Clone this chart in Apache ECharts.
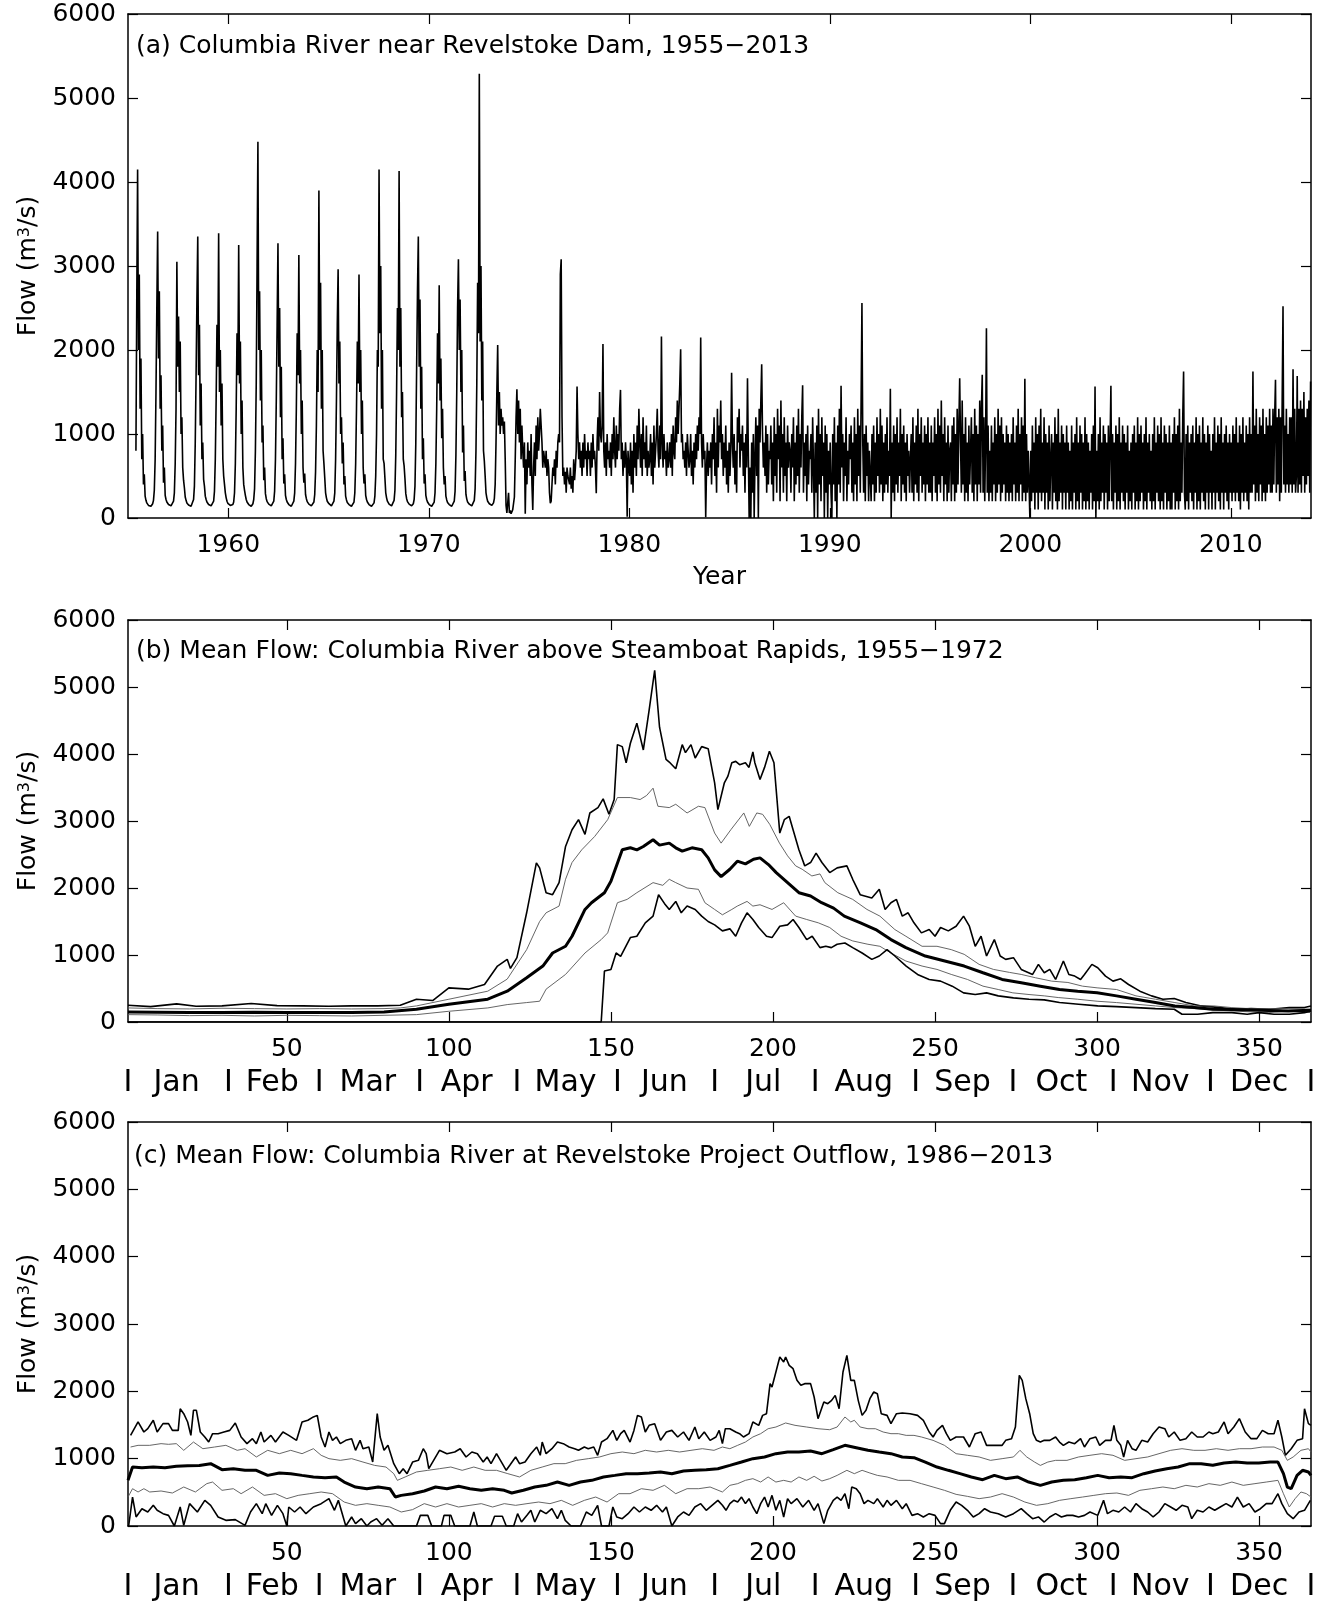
<!DOCTYPE html>
<html>
<head>
<meta charset="utf-8">
<script src="https://cdn.jsdelivr.net/npm/echarts@6/dist/echarts.min.js"></script>
<style>
  html, body { margin: 0; padding: 0; background: #fff; }
  #chart { width: 1320px; height: 1608px; }
</style>
</head>
<body>
<div id="chart"></div>
<script>
// ---------------- Panel (a): daily record, 24 readings per year ----------------
const firstNaturalYear = 1955;
// 1955-1973, half-month readings (m3/s); record starts late May 1955
const naturalFlow = [
  null,null,null,null,null,null, null,null,null,800,2600,4150, 2000,2900,1300,1900,700,1000, 400,520,260,210,180,160, // 1955
  150,145,140,140,150,170, 210,330,700,1500,2500,3410, 1900,2700,1300,1700,800,1100, 420,600,270,220,190,170, // 1956
  160,150,145,145,150,160, 200,300,650,1300,3050,1800, 2400,1500,2100,1000,1200,600, 450,360,250,210,180,165, // 1957
  155,150,145,140,145,160, 220,380,900,1700,2600,3350, 1700,2300,1100,1600,700,900, 460,380,260,220,190,170, // 1958
  160,150,145,145,150,165, 200,320,700,1400,2300,1800, 3390,1500,2000,1100,1600,700, 500,400,300,240,200,175, // 1959
  165,155,150,145,150,160, 190,300,650,1300,2200,1700, 3250,1600,2100,1000,1400,600, 400,330,270,220,190,170, // 1960
  160,150,145,140,150,170, 220,350,800,1600,3000,4480, 2000,2700,1400,2000,900,1100, 450,600,290,230,195,175, // 1961
  165,155,150,145,150,165, 200,320,700,1400,2300,3270, 1800,2500,1200,1800,700,950, 410,520,270,220,190,170, // 1962
  160,150,145,140,150,160, 200,300,650,1300,2200,1700, 3130,1600,2000,1000,1400,600, 420,530,280,230,195,175, // 1963
  165,155,150,145,150,160, 190,280,550,1100,2000,1500, 3900,2000,2800,1300,2000,800, 650,480,300,240,200,180, // 1964
  170,160,150,145,150,160, 200,300,700,1400,2300,2960, 1600,2100,1000,1200,650,900, 400,500,260,215,185,170, // 1965
  160,150,145,140,145,160, 190,300,650,1300,2100,1600, 2900,1500,2000,1000,1400,600, 410,520,270,220,190,170, // 1966
  160,150,145,140,145,155, 180,260,500,1000,2000,1800, 4150,2200,3000,1300,2000,700, 650,480,300,240,200,180, // 1967
  165,155,150,145,150,165, 210,330,750,1500,2500,2000, 4130,1800,2500,1200,1500,700, 620,470,290,230,195,175, // 1968
  165,155,150,145,150,170, 220,380,900,1800,2700,3350, 1800,2600,1300,1800,700,950, 410,520,270,220,190,170, // 1969
  160,150,145,140,145,160, 190,300,650,1300,2200,1600, 2770,1400,1900,950,1300,600, 400,500,260,215,185,170, // 1970
  160,150,145,140,145,160, 200,320,750,1500,2500,3080, 2000,2600,1500,2000,780,1100, 440,560,280,225,190,175, // 1971
  165,155,150,145,150,165, 210,350,800,1600,2800,2200, 5290,2100,3000,1400,2100,800, 680,500,300,240,200,180, // 1972
  170,160,150,150,160,180, 230,400,900,1500,2060,1100, 1500,1000,1300,1100,1200,1000, 1150,700,150,60,50,300  // 1973
];

const firstRegulatedYear = 1974;
// 1974-2013, half-month readings (m3/s) of the regulated river
const regulatedFlow = [
  60,90,50,70,100,80, 250,700,1200,1533,1000,1400, 900,1300,700,1100,800,600, 900,50,700,400,900,600, // 1974
  800,500,1000,400,95,600, 900,500,1100,700,1200,800, 1000,1300,1100,900,600,800, 700,600,800,500,700,600, // 1975
  300,175,200,400,600,500, 700,400,800,600,900,1000, 900,2900,3080,1200,500,600, 400,550,300,600,500,450, // 1976
  400,600,350,500,300,700, 450,600,800,1565,1000,700, 900,600,800,500,900,600, 1000,700,800,500,900,700, // 1977
  800,500,900,600,1000,700, 800,600,294,900,1200,800, 1500,1000,900,1100,2070,800, 600,900,500,1000,700,800, // 1978
  600,900,500,1000,700,1200, 800,600,1100,700,1000,800, 1300,1525,700,900,500,800, 600,900,700,16,800,600, // 1979
  500,900,400,800,300,1000, 600,900,500,1100,700,1300, 900,600,1000,500,1200,700, 900,600,1100,500,800,600, // 1980
  700,1000,500,900,400,1100, 600,800,1000,1300,800,600, 1100,700,2160,900,600,1000, 700,800,500,900,600,700, // 1981
  900,600,1000,500,1100,800, 700,1200,900,1400,1000,1300, 1600,2010,900,1000,700,800, 600,900,500,1000,800,600, // 1982
  700,1000,500,800,400,900, 600,1000,700,1100,800,1200, 1000,2150,900,600,1000,700, 800,10,600,900,500,800, // 1983
  600,900,400,1000,700,1200, 500,900,300,1300,600,1100, 900,1400,700,1000,500,900, 600,1100,400,800,300,900, // 1984
  500,800,1730,900,600,1000, 400,800,300,1200,900,1300, 600,1000,800,1100,500,900, 300,1000,600,1665,800,0, // 1985
  600,0,900,300,1000,0, 700,1200,500,1100,0,1300, 900,1400,1830,1000,600,900, 500,1100,300,1000,400,800, // 1986
  700,1100,400,900,200,1200, 500,1000,300,1300,700,1100, 200,1400,600,1000,300,1200, 500,900,200,1100,600,900, // 1987
  800,300,1000,600,1200,200, 900,400,1100,500,1300,300, 1000,600,1200,1580,300,900, 500,1000,200,1100,400,800, // 1988
  700,1000,300,1200,600,0, 900,300,1100,0,1300,400, 1000,200,1200,500,900,0, 1100,300,1000,0,800,400, // 1989
  900,300,0,1000,400,1200, 200,900,0,1100,400,1300, 300,1573,600,1000,200,900, 500,1200,200,800,400,1000, // 1990
  700,1100,300,900,200,1200, 400,1000,200,1300,500,1100, 300,1400,2560,900,300,1000, 200,1100,500,900,200,800, // 1991
  800,200,1000,400,1100,200, 900,300,1200,500,1000,300, 1300,400,1100,200,900,300, 1000,400,1200,300,800,500, // 1992
  1538,0,900,300,1100,200, 1000,400,1200,300,900,500, 1300,200,1000,400,1100,300, 900,200,1000,500,800,300, // 1993
  700,1000,300,1200,200,900, 400,1100,300,1300,200,1000, 500,1200,300,900,400,1100, 200,1000,400,1200,300,900, // 1994
  300,1100,200,900,500,1200, 300,1000,200,1300,400,1100, 300,1400,500,1000,200,1200, 400,900,200,1100,300,800, // 1995
  900,200,1100,400,1200,200, 1000,300,1300,400,1100,1665, 900,300,1400,400,1000,200, 1200,300,900,200,1100,400, // 1996
  800,1200,300,1000,200,1300, 400,1100,200,1000,400,1400, 300,1300,1704,300,1200,200, 900,2260,300,1100,200,800, // 1997
  300,1100,200,900,400,1200, 200,1000,300,1300,400,1100, 200,1200,300,1000,400,900, 200,1100,300,1000,200,900, // 1998
  300,1000,200,1200,400,900, 200,1100,300,1300,200,1000, 400,1200,200,1100,300,1657, 200,1000,300,800,400,0, // 1999
  800,200,1100,300,900,100, 1200,300,1000,100,1100,300, 1300,200,900,300,1200,100, 1000,300,900,100,1100,200, // 2000
  700,1000,100,900,300,1200, 200,1000,100,1300,200,900, 300,1100,100,1000,300,900, 100,1100,300,900,100,800, // 2001
  200,1100,100,900,300,1000, 100,1200,200,900,100,1100, 300,1000,100,900,200,1200, 100,1000,200,900,100,800, // 2002
  300,1000,100,1100,200,1565, 0,800,200,1000,100,1200, 200,900,300,1100,100,1000, 300,900,100,1100,200,900, // 2003
  1573,200,1000,100,900,300, 1100,100,1000,200,1200,100, 900,300,1100,200,1000,100, 900,300,1100,100,800,200, // 2004
  900,100,1000,300,1100,100, 900,200,1200,100,1000,200, 1100,300,900,100,1000,200, 1200,100,900,300,1000,200, // 2005
  800,100,1000,200,1200,100, 900,300,1100,200,1000,100, 1200,200,900,100,1100,300, 1000,100,900,200,1100,100, // 2006
  900,100,1000,300,1200,100, 1000,200,1100,100,1300,200, 900,300,1200,1744,300,100, 1000,200,1100,100,900,300, // 2007
  1000,200,1100,100,900,300, 1200,100,1000,200,1100,100, 900,300,1200,200,1000,100, 900,300,1100,100,1000,300, // 2008
  800,100,1000,300,1200,100, 900,300,1100,200,1000,100, 1200,300,900,100,1000,300, 1100,200,900,100,1000,300, // 2009
  900,200,1100,300,1000,200, 1200,300,900,200,1100,100, 1000,300,1200,200,900,300, 1100,200,1000,100,1200,300, // 2010
  1000,300,1744,400,1100,200, 1300,300,1000,200,1200,400, 1100,200,1300,300,1000,200, 1200,300,1100,400,1300,300, // 2011
  1100,300,1300,400,1200,1645, 300,1200,400,1300,200,1200, 300,1400,2520,400,1100,300, 1300,400,1000,300,1200,400, // 2012
  1200,300,1770,400,1300,300, 500,1690,300,1300,400,1400, 300,1300,500,1500,300,1200, 400,1300,500,1400,300,1625  // 2013
];
const readingsPerYear = 24;
const yearTicks = [1960, 1970, 1980, 1990, 2000, 2010];

// ---------------- Panel (b): day-of-year statistics, 1955-1972 ----------------
const maxB = [[1,250],[8,230],[16,270],[22,235],[30,240],[39,275],[47,245],[55,240],[63,235],[70,240],[78,240],[85,250],[90,340],[95,320],[100,510],[106,490],[111,560],[115,835],[118,935],[119,800],[121,960],[124,1630],[127,2375],[128,2300],[130,1930],[132,1900],[134,2080],[136,2620],[138,2870],[140,3020],[142,2800],[143.5,3120],[146,3200],[147.6,3330],[149.4,3100],[151,3320],[152,4140],[153.5,4110],[154.7,3870],[156,4160],[158,4460],[160,4060],[161.8,4660],[163.5,5250],[165,4400],[167,3920],[168,3880],[170,3780],[172,4140],[173,4020],[174.7,4140],[176,3940],[178,4110],[180,4080],[182,3570],[183,3170],[185,3570],[186.1,3670],[187.3,3870],[188.5,3890],[189.7,3840],[191.5,3870],[192.6,3800],[193.8,4030],[194.4,3870],[196,3620],[197.4,3800],[198.9,4040],[200.3,3870],[202.1,2820],[203.5,3020],[205,3070],[206.2,2870],[208,2570],[209.8,2330],[211.6,2380],[213.3,2520],[215.1,2380],[217.5,2230],[219.8,2300],[222.8,2330],[224.6,2130],[226.9,1900],[230.5,1850],[232.8,1980],[234.6,1680],[236.4,1780],[238.1,1830],[239.9,1580],[241.7,1630],[243.5,1480],[245.8,1330],[248.2,1380],[250,1280],[251.7,1410],[254.1,1360],[256.5,1430],[258.8,1580],[260.6,1430],[262.4,1130],[264.2,1280],[265.9,985],[268.3,1230],[270.1,985],[271.8,935],[274.2,960],[276.6,785],[280.1,710],[281.9,860],[283.7,735],[285.4,785],[287.2,635],[289.6,910],[291.3,710],[293.1,685],[294.9,635],[296.1,710],[298.4,860],[300.2,810],[302.6,685],[304.9,610],[307.3,645],[309.7,560],[313.2,460],[316.8,390],[320.3,340],[323.8,350],[327.4,290],[332.1,240],[338,215],[342.8,190],[347.5,200],[353.4,190],[359.3,215],[364,215],[366,240]];
const upperB = [[1,210],[10,200],[20,195],[30,205],[40,200],[50,195],[60,200],[70,195],[80,200],[85,210],[90,240],[100,340],[112,460],[118,640],[124,1080],[128,1500],[130,1630],[134,1730],[136,2130],[138,2380],[141,2570],[145,2770],[149,3020],[152,3350],[156,3350],[159,3320],[161,3380],[163,3490],[164.5,3220],[168,3200],[170,3250],[173.5,3120],[177,3220],[179,3200],[182,2820],[184,2670],[187,2870],[191,3120],[192.7,2920],[195,3120],[196.8,3100],[199,2950],[202,2670],[204.5,2480],[207,2330],[209,2280],[212,2180],[214.5,2210],[216,2080],[220,1930],[224.6,1830],[229,1680],[233,1580],[237.6,1380],[241,1280],[246,1130],[250.6,1130],[255,1080],[259,1010],[263.6,860],[268,785],[273,740],[276.6,710],[281,660],[286,610],[291,590],[295.5,535],[300,510],[306,485],[312,390],[318,340],[324,290],[330,240],[336,240],[341.6,215],[347,200],[353,200],[359,200],[366,190]];
const meanB = [[1,150],[10,145],[20,140],[30,140],[40,145],[50,140],[60,140],[70,140],[80,150],[90,190],[100,265],[112,340],[118,460],[124,660],[129,835],[132,1030],[136,1130],[138,1280],[142,1680],[144,1780],[148,1930],[150,2100],[153.5,2570],[156,2600],[158,2570],[160,2620],[163,2720],[165,2640],[168,2670],[170,2600],[172,2550],[175,2600],[178,2570],[180,2450],[182,2270],[184,2170],[186.7,2280],[189,2400],[191.5,2360],[194,2430],[196,2450],[198.6,2350],[201,2230],[204.5,2080],[208,1930],[211.6,1880],[215,1780],[218.7,1700],[222,1580],[227,1480],[231.7,1380],[236.4,1230],[241,1110],[247,985],[253,910],[259,835],[264.8,735],[270.7,635],[276.6,585],[282.5,535],[288.4,485],[294,460],[300,435],[306,390],[312,340],[318,290],[324,240],[330,215],[335.7,190],[341.6,185],[347.5,180],[353,170],[359,165],[366,175]];
const lowerB = [[1,110],[10,105],[20,95],[30,100],[40,90],[50,100],[60,95],[70,90],[80,100],[90,110],[100,160],[112,210],[118,260],[124,290],[128,310],[130,490],[136,710],[142,1030],[147,1230],[149,1330],[152,1780],[155,1830],[158,1930],[163,2080],[166,2040],[168,2130],[170,2080],[173.5,2000],[177,1980],[179,1780],[182,1680],[184.4,1600],[187.3,1680],[189,1730],[192,1800],[193.8,1730],[196,1750],[199.7,1680],[203.3,1780],[207,1580],[210.4,1530],[214,1480],[217.5,1410],[221,1280],[224.6,1210],[229.3,1160],[233,1130],[236.4,1030],[241,910],[246,835],[250.6,785],[255,710],[260,635],[264.8,535],[269.5,485],[274,435],[279,410],[283.7,390],[288,365],[294,340],[300,310],[306,290],[312,265],[318,240],[324,215],[330,200],[335.7,180],[341.6,165],[347.5,150],[353,140],[359,165],[366,140]];
const minB = [[1,0],[147,0],[148,760],[150,785],[151.6,1030],[153,980],[156,1260],[158,1280],[160.6,1480],[163,1580],[164.7,1900],[166.5,1770],[168,1680],[170,1800],[171.7,1630],[173.5,1730],[176,1680],[178,1580],[180,1500],[182,1450],[184.4,1360],[186.7,1390],[188.5,1280],[190.3,1480],[192,1630],[193.8,1530],[195.6,1410],[198,1280],[199.7,1260],[202.1,1430],[204.5,1450],[206.2,1530],[208,1410],[210.4,1230],[212.1,1280],[214.5,1110],[216.3,1130],[218,1110],[219.8,1160],[222.2,1180],[224.6,1110],[227.5,1030],[230.5,935],[232.8,985],[235.2,1080],[237.6,985],[241.1,835],[244.6,710],[248.2,635],[251.7,610],[255.3,535],[258.8,435],[262.4,410],[265.9,435],[269.5,390],[274.2,360],[279,340],[283.7,330],[288.4,290],[294.3,265],[300.2,240],[306,230],[312,215],[318,200],[323.8,190],[326.2,115],[331,115],[335.7,140],[341.6,140],[346.3,115],[350,140],[354.6,115],[359.3,115],[364,140],[366,165]];

// ---------------- Panel (c): day-of-year statistics, 1986-2013 ----------------
const maxC = [[1.8,1346],[4.1,1545],[5.9,1396],[7.1,1446],[8.8,1570],[10,1396],[11.8,1520],[13.5,1520],[14.7,1420],[16.5,1420],[17.1,1742],[18.2,1668],[19.4,1545],[20.4,1346],[21.2,1718],[22.1,1718],[23.3,1396],[24.7,1322],[25.9,1247],[27.1,1371],[28.8,1371],[30.6,1396],[32.4,1420],[34.1,1530],[35.9,1322],[37.7,1223],[39.4,1297],[40.6,1223],[42,1396],[43,1247],[45.1,1346],[46.5,1247],[48.8,1396],[50.6,1346],[53,1272],[54.7,1545],[56.5,1570],[58.2,1620],[59.4,1643],[60.6,1322],[61.8,1173],[63,1396],[64.1,1272],[65.3,1322],[66.5,1223],[68.2,1272],[70,1297],[71.2,1124],[72.6,1272],[73.5,1148],[75.3,1173],[76.5,950],[77.9,1668],[78.8,1322],[80,1124],[81.2,1198],[83,926],[84.7,777],[85.9,851],[87.1,777],[88.8,950],[90.6,975],[92.1,1148],[93,1074],[93.8,851],[95.3,975],[97.1,1124],[99.4,1074],[101.8,1099],[103.5,1148],[105.3,1025],[107.1,1099],[108.8,1074],[110.6,950],[111.8,1025],[113,926],[114.7,1074],[116.5,926],[117.7,827],[118.8,901],[120.6,1025],[121.8,926],[123.5,950],[125.3,1074],[127.1,1173],[128.2,1050],[128.8,1247],[130,1074],[131.8,1148],[133.5,1247],[135.3,1223],[137.1,1173],[138.8,1148],[140,1124],[141.8,1173],[143,1148],[144.7,1173],[145.9,1050],[147.1,1247],[148.8,1297],[150.6,1420],[151.8,1272],[153,1371],[154.1,1420],[155.9,1247],[157.1,1420],[158.2,1643],[159.4,1619],[160.6,1396],[161.8,1495],[163.5,1520],[165.3,1272],[167.1,1396],[168.8,1420],[170.6,1322],[172.4,1396],[174.1,1272],[175.9,1470],[177.1,1297],[178.8,1396],[180.6,1272],[182.4,1322],[183.4,1420],[184.4,1223],[185.3,1445],[186.7,1445],[188.5,1396],[189.7,1371],[190.9,1322],[192.6,1371],[193.8,1545],[195.6,1495],[196.8,1643],[198,1668],[199.1,2114],[199.7,2064],[200.9,2287],[202.1,2510],[203.3,2435],[203.9,2510],[205,2386],[206.2,2336],[207.4,2163],[208.6,2089],[209.8,2114],[211.6,2114],[212.7,1916],[213.9,1594],[215.7,1841],[216.9,1817],[218.1,1866],[219.2,1940],[220.4,1742],[221.6,2287],[222.8,2534],[224,2163],[225.1,2163],[226.3,1866],[227.5,1643],[228.7,1718],[229.9,1891],[231.1,1990],[232.2,1965],[233.4,1668],[235.2,1643],[236.4,1520],[238.1,1668],[239.9,1678],[242.3,1668],[244.6,1643],[246.4,1570],[248.2,1396],[249.4,1322],[250.6,1420],[252.3,1495],[253.5,1371],[254.7,1272],[256.5,1322],[258.8,1322],[260.6,1173],[262.4,1371],[264.2,1396],[265.9,1198],[268.3,1198],[270.7,1198],[271.8,1272],[273.6,1297],[274.8,1470],[276,2237],[276.9,2163],[278,1891],[279.2,1668],[280.3,1371],[281.3,1272],[282.5,1247],[283.7,1272],[285.4,1272],[287.2,1322],[288.4,1247],[289.6,1198],[291.3,1247],[293.1,1223],[294.9,1297],[296.1,1173],[297.8,1297],[299.6,1322],[300.8,1198],[302.6,1272],[304.3,1272],[305.2,1495],[306.1,1272],[307.3,1198],[308.2,1025],[309.4,1272],[310.8,1148],[312,1124],[313.8,1272],[315.6,1247],[317.3,1371],[319.1,1470],[320.9,1445],[322.1,1322],[323.8,1396],[325.6,1272],[327.4,1297],[329.2,1396],[330.9,1322],[332.7,1322],[334.5,1396],[335.7,1371],[337.4,1396],[339.2,1545],[340.4,1371],[342.2,1470],[343.9,1594],[345.7,1396],[347.5,1297],[349.3,1297],[351,1420],[352.8,1371],[354.6,1371],[355.8,1570],[357,1322],[358.1,1050],[359.9,1148],[361.7,1272],[363.4,1297],[364,1742],[365.2,1520],[366,1495]];
const upperC = [[1.8,1173],[4.1,1198],[7.7,1198],[11.2,1223],[13.5,1213],[15.9,1223],[18.2,1124],[21.2,1247],[24.1,1148],[27.7,1173],[31.2,1198],[34.7,1124],[37.1,1148],[40.6,1025],[44.1,1124],[47.7,1074],[51.2,1124],[54.7,1074],[58.2,1148],[60.6,1050],[63,1000],[66.5,975],[70,1000],[73.5,950],[77.1,900],[80.6,876],[83,777],[84.1,678],[86.5,728],[90,802],[93.5,827],[97.1,851],[100.6,876],[104.1,827],[107.7,876],[111.2,827],[114.7,827],[118.2,777],[121.8,728],[125.3,827],[128.8,876],[132.4,926],[135.9,926],[139.4,975],[143,1000],[146.5,1025],[150,1074],[153.5,1099],[157.1,1074],[160.6,1124],[164.1,1099],[167.7,1124],[171.2,1099],[174.7,1124],[178.2,1148],[181.8,1124],[184.4,1173],[186.7,1148],[189.1,1198],[191.5,1247],[193.8,1322],[196.2,1371],[198.5,1445],[200.9,1470],[203.9,1530],[206.8,1495],[210.4,1470],[213.9,1445],[217.5,1430],[219.8,1470],[222.2,1619],[224,1545],[225.1,1570],[226.9,1470],[229.3,1445],[231.6,1445],[234,1396],[236.4,1371],[238.7,1371],[241.1,1346],[243.5,1346],[245.8,1322],[249.4,1272],[252.9,1198],[256.5,1074],[260,1050],[263.6,1025],[267.1,975],[270.7,1000],[274.2,1025],[276.2,1124],[278.3,1025],[280.7,950],[282.5,900],[284.8,950],[287.2,975],[290.7,975],[294.3,1025],[297.8,1050],[301.4,1074],[304.9,1050],[308.5,975],[312,1000],[315.6,1025],[319.1,1074],[322.7,1124],[326.2,1148],[329.8,1124],[333.3,1124],[336.8,1148],[340.4,1124],[343.9,1148],[347.5,1148],[351,1173],[354.6,1173],[357,1124],[358.7,975],[360.5,1025],[362.9,1124],[365.2,1148],[366,1099]];
const meanC = [[1,678],[2.4,876],[5.3,866],[8.8,876],[12.4,866],[15.9,886],[19.4,895],[23,900],[26.5,926],[30,837],[33.5,851],[37.1,827],[40.6,827],[44.1,752],[47.7,787],[51.2,777],[54.7,752],[58.2,728],[61.8,718],[65.3,728],[67.7,653],[71.2,579],[74.7,554],[78.2,579],[81.8,554],[83.5,430],[85.3,455],[88.8,480],[92.4,520],[95.9,579],[99.4,554],[103,589],[106.5,554],[110,530],[113.5,554],[117.1,530],[119.4,490],[123,530],[126.5,579],[130,604],[133.5,653],[137.1,604],[140.6,653],[144.1,678],[147.7,728],[151.2,752],[154.7,777],[158.2,777],[161.8,787],[165.3,802],[168.8,777],[172.4,817],[175.9,827],[179.4,837],[183,851],[186.7,900],[190.3,950],[193.8,1000],[197.4,1025],[200.9,1074],[204.5,1099],[208,1099],[211.6,1114],[215.1,1074],[218.6,1134],[222.2,1198],[225.7,1163],[229.3,1124],[232.8,1099],[236.4,1074],[239.9,1025],[243.5,1015],[247,950],[250.6,876],[254.1,827],[257.7,777],[261.2,728],[264.7,688],[268.3,752],[271.8,703],[275.4,728],[278.9,653],[282.5,604],[286,653],[289.6,678],[293.1,688],[296.7,718],[300.2,752],[303.7,718],[307.3,728],[310.8,718],[314.4,777],[317.9,817],[321.5,851],[325,876],[328.6,926],[332.1,926],[335.7,901],[339.2,936],[342.8,950],[346.3,936],[349.9,936],[353.4,950],[355.8,950],[357.5,777],[358.7,579],[359.9,554],[361.7,752],[363.4,827],[365.2,802],[366,752]];
const lowerC = [[1,430],[2.4,554],[4.1,505],[5.9,554],[7.7,505],[11.2,520],[14.7,490],[18.2,579],[21.8,505],[25.3,629],[27.1,653],[30,530],[33.5,554],[35.9,480],[39.4,579],[43,455],[46.5,480],[50,406],[53.5,455],[57.1,480],[60.6,505],[64.1,480],[67.7,356],[71.2,307],[74.7,332],[78.2,307],[81.8,282],[85.3,208],[88.8,243],[92.4,332],[95.9,282],[99.4,332],[103,282],[106.5,307],[110,332],[113.5,282],[117.1,332],[120.6,307],[124.1,332],[127.7,356],[131.2,332],[134.7,381],[138.2,307],[141.8,381],[145.3,430],[148.8,356],[152.4,480],[155.9,480],[159.4,554],[163,530],[166.5,604],[170,480],[173.5,554],[177.1,554],[180.6,579],[184.4,505],[186.7,604],[189.1,629],[191.5,678],[193.8,703],[196.2,653],[198.5,728],[200.9,653],[203.3,678],[205.6,653],[208,728],[210.4,678],[212.7,738],[215.1,668],[217.5,703],[219.8,752],[222.8,827],[225.1,777],[227.5,827],[229.9,787],[232.2,752],[235.2,728],[238.7,678],[242.3,678],[245.8,629],[249.4,579],[252.9,530],[256.5,470],[260,440],[263.6,406],[267.1,430],[270.7,480],[274.2,430],[277.7,356],[281.3,307],[284.8,332],[288.4,381],[291.9,406],[295.5,430],[299,455],[302.6,480],[306.1,490],[309.7,455],[313.2,530],[316.8,554],[320.3,579],[323.8,554],[327.4,604],[330.9,579],[334.5,629],[338,604],[341.6,653],[345.1,604],[348.7,629],[352.2,653],[355.8,678],[357.5,480],[359.3,282],[361.1,406],[362.9,505],[364.6,480],[366,430]];
const minC = [[1.2,0],[2.4,430],[3.5,134],[5.3,257],[7.1,208],[8.8,307],[10,233],[11.8,183],[13.5,158],[15.3,0],[17.1,282],[18.2,10],[20,332],[22.4,208],[24.7,381],[26.5,307],[28.8,134],[31.2,84],[34.1,94],[37.1,10],[38.8,208],[40.6,332],[42.4,183],[43.5,332],[45.3,158],[47.1,307],[48.8,183],[50,0],[50.6,282],[52.4,208],[54.1,282],[55.9,183],[58.2,282],[60.6,332],[63,406],[64.7,233],[65.9,381],[67.1,183],[68.2,0],[70,134],[71.2,35],[73,109],[74.7,0],[75.9,59],[77.7,109],[79.4,10],[81.2,109],[83,0],[90,0],[91.2,158],[93.5,158],[94.7,0],[97.7,0],[98.5,158],[100.6,158],[101.8,0],[106.5,0],[107.7,208],[108.8,0],[113,0],[114.1,144],[116.5,144],[117.7,0],[120,0],[121.2,183],[122.4,59],[124.1,158],[125.3,233],[126.5,59],[128.2,233],[130,183],[131.8,257],[133.5,109],[134.7,233],[135.9,84],[137.7,0],[140.6,0],[142.4,208],[144.1,158],[145.9,307],[147.1,0],[149.4,0],[150.6,282],[151.8,134],[153.5,109],[155.3,183],[157.1,282],[158.8,208],[160.6,282],[162.4,233],[164.1,307],[165.9,208],[167.1,282],[168.8,0],[170.6,134],[172.4,208],[174.1,158],[175.9,282],[177.7,332],[179.4,233],[181.2,307],[183,381],[184.4,307],[185.5,233],[186.7,332],[187.9,381],[189.1,356],[190.3,430],[191.5,332],[192.6,406],[193.8,282],[195,183],[196.2,332],[197.4,430],[198.5,282],[199.7,455],[200.9,233],[202.1,381],[203.3,134],[204.5,406],[205.6,332],[207.4,406],[209.2,282],[211,381],[212.7,233],[213.9,332],[215.7,35],[216.9,233],[218.6,381],[219.8,430],[221,381],[222.2,480],[223.4,257],[224.3,579],[225.7,554],[226.9,480],[228.1,332],[229.3,381],[231.1,332],[232.2,406],[234,282],[235.2,381],[236.4,307],[238.1,381],[239.9,257],[241.1,332],[242.9,158],[244.6,183],[246.4,134],[248.2,183],[250,158],[251.7,35],[252.9,35],[254.7,233],[256.5,356],[258.2,307],[260,233],[261.8,134],[263.6,183],[265.3,257],[267.1,208],[269.5,183],[271.8,134],[274.2,183],[276.6,257],[278.3,183],[280.1,109],[281.9,134],[283.7,59],[285.4,134],[287.2,183],[289,134],[290.7,158],[292.5,158],[294.3,134],[296.1,158],[297.8,208],[300.2,158],[302,381],[303.2,183],[304.9,233],[306.7,208],[308.5,282],[310.3,208],[312,332],[313.8,257],[315.6,208],[317.3,134],[319.1,208],[320.9,332],[322.7,282],[324.4,233],[326.2,307],[328,282],[329.2,109],[330.9,233],[332.7,208],[334.5,282],[336.3,233],[338,282],[339.8,332],[341.6,282],[343.3,430],[345.1,282],[346.9,332],[348.7,208],[350.4,257],[352.2,332],[354,332],[355.8,480],[357,332],[358.7,183],[360.5,109],[362.3,208],[364,233],[365.8,381]];

// Axis ticks and month guide row shared by panels (b) and (c)
const dayTicks = [50, 100, 150, 200, 250, 300, 350];
const monthNames = ['Jan','Feb','Mar','Apr','May','Jun','Jul','Aug','Sep','Oct','Nov','Dec'];
const monthStarts = [1, 32, 60, 91, 121, 152, 182, 213, 244, 274, 305, 335, 366];

// ---------------- build the chart ----------------
const FONT = 'DejaVu Sans';
const FS = 25;
const MONTH_FS = 30;
const BLACK = '#000';

function seriesFromYears(values, startYear) {
  return values.map((v, i) => {
    const year = startYear + Math.floor(i / readingsPerYear);
    const slot = i % readingsPerYear;
    return [year + (slot + 0.5) / readingsPerYear, v];
  });
}
const flowA = seriesFromYears(naturalFlow, firstNaturalYear)
  .concat(seriesFromYears(regulatedFlow, firstRegulatedYear));

const monthLabelValues = [];
const monthLabelText = {};
monthStarts.forEach(d => { monthLabelValues.push(d); monthLabelText[d] = 'I'; });
monthNames.forEach((m, i) => {
  const mid = (monthStarts[i] + monthStarts[i + 1] - 1) / 2;
  monthLabelValues.push(mid);
  monthLabelText[mid] = m;
});
monthLabelValues.sort((a, b) => a - b);

const grids = [
  { left: 128, top: 14, width: 1183, height: 504 },
  { left: 128, top: 620, width: 1183, height: 402 },
  { left: 128, top: 1122, width: 1183, height: 404 }
];

const plain = v => String(v);
const frameLine = { show: true, onZero: false, lineStyle: { color: BLACK, width: 1.5 } };
const labelStyle = { fontFamily: FONT, fontSize: FS, color: BLACK };
const tickStyle = { color: BLACK, width: 1.2 };

function xMain(grid, min, max, ticks, extra) {
  return Object.assign({
    type: 'value', gridIndex: grid, position: 'bottom', min: min, max: max,
    axisLine: frameLine,
    axisTick: { show: true, inside: true, length: 10, customValues: ticks, lineStyle: tickStyle },
    axisLabel: Object.assign({ show: true, margin: 15, customValues: ticks, formatter: plain }, labelStyle),
    splitLine: { show: false }
  }, extra || {});
}
function xTop(grid, min, max, ticks) {
  return {
    type: 'value', gridIndex: grid, position: 'top', min: min, max: max,
    axisLine: frameLine,
    axisTick: { show: true, inside: true, length: 10, customValues: ticks, lineStyle: tickStyle },
    axisLabel: { show: false }, splitLine: { show: false }
  };
}
function xMonths(grid) {
  return {
    type: 'value', gridIndex: grid, position: 'bottom', min: 1, max: 366,
    axisLine: { show: false }, axisTick: { show: false }, splitLine: { show: false },
    axisLabel: {
      show: true, margin: 46, customValues: monthLabelValues,
      formatter: v => monthLabelText[v] || '',
      fontFamily: FONT, fontSize: MONTH_FS, color: BLACK
    }
  };
}
function yLeft(grid) {
  return {
    type: 'value', gridIndex: grid, position: 'left', min: 0, max: 6000, interval: 1000,
    axisLine: frameLine,
    axisTick: { show: true, inside: true, length: 10, lineStyle: tickStyle },
    axisLabel: Object.assign({ margin: 12, formatter: plain }, labelStyle),
    splitLine: { show: false },
    name: 'Flow (m{sup|3}/s)', nameLocation: 'middle', nameGap: 76, nameRotate: 90,
    nameTextStyle: Object.assign({
      rich: { sup: { fontFamily: FONT, fontSize: 16, color: BLACK, verticalAlign: 'top' } }
    }, labelStyle)
  };
}
function yRight(grid) {
  return {
    type: 'value', gridIndex: grid, position: 'right', min: 0, max: 6000, interval: 1000,
    axisLine: frameLine,
    axisTick: { show: true, inside: true, length: 10, lineStyle: tickStyle },
    axisLabel: { show: false }, splitLine: { show: false }
  };
}

function line(data, xi, yi, color, width) {
  return {
    type: 'line', data: data, xAxisIndex: xi, yAxisIndex: yi,
    showSymbol: false, symbol: 'none', silent: true, animation: false,
    lineStyle: { color: color, width: width }, z: width > 2 ? 4 : 3
  };
}

const titleStyle = { fontFamily: FONT, fontSize: FS, fontWeight: 'normal', color: BLACK };

const option = {
  backgroundColor: '#fff',
  animation: false,
  title: [
    { text: '(a) Columbia River near Revelstoke Dam, 1955\u22122013', left: 136, top: 34, padding: 0, textStyle: titleStyle },
    { text: '(b) Mean Flow: Columbia River above Steamboat Rapids, 1955\u22121972', left: 136, top: 639, padding: 0, textStyle: titleStyle },
    { text: '(c) Mean Flow: Columbia River at Revelstoke Project Outflow, 1986\u22122013', left: 134, top: 1144, padding: 0, textStyle: titleStyle }
  ],
  grid: grids,
  xAxis: [
    xMain(0, 1955, 2014, yearTicks, { name: 'Year', nameLocation: 'middle', nameGap: 47, nameTextStyle: labelStyle }),
    xTop(0, 1955, 2014, yearTicks),
    xMain(1, 1, 366, dayTicks),
    xTop(1, 1, 366, dayTicks),
    xMonths(1),
    xMain(2, 1, 366, dayTicks),
    xTop(2, 1, 366, dayTicks),
    xMonths(2)
  ],
  yAxis: [yLeft(0), yRight(0), yLeft(1), yRight(1), yLeft(2), yRight(2)],
  series: [
    line(flowA, 0, 0, BLACK, 1.6),

    line(maxB, 2, 2, BLACK, 1.6),
    line(upperB, 2, 2, '#555', 0.9),
    line(meanB, 2, 2, BLACK, 3),
    line(lowerB, 2, 2, '#555', 0.9),
    line(minB, 2, 2, BLACK, 1.6),

    line(maxC, 5, 4, BLACK, 1.6),
    line(upperC, 5, 4, '#555', 0.9),
    line(meanC, 5, 4, BLACK, 3),
    line(lowerC, 5, 4, '#555', 0.9),
    line(minC, 5, 4, BLACK, 1.6)
  ]
};

const chart = echarts.init(document.getElementById('chart'), null, { renderer: 'canvas' });
chart.setOption(option);
</script>
</body>
</html>
